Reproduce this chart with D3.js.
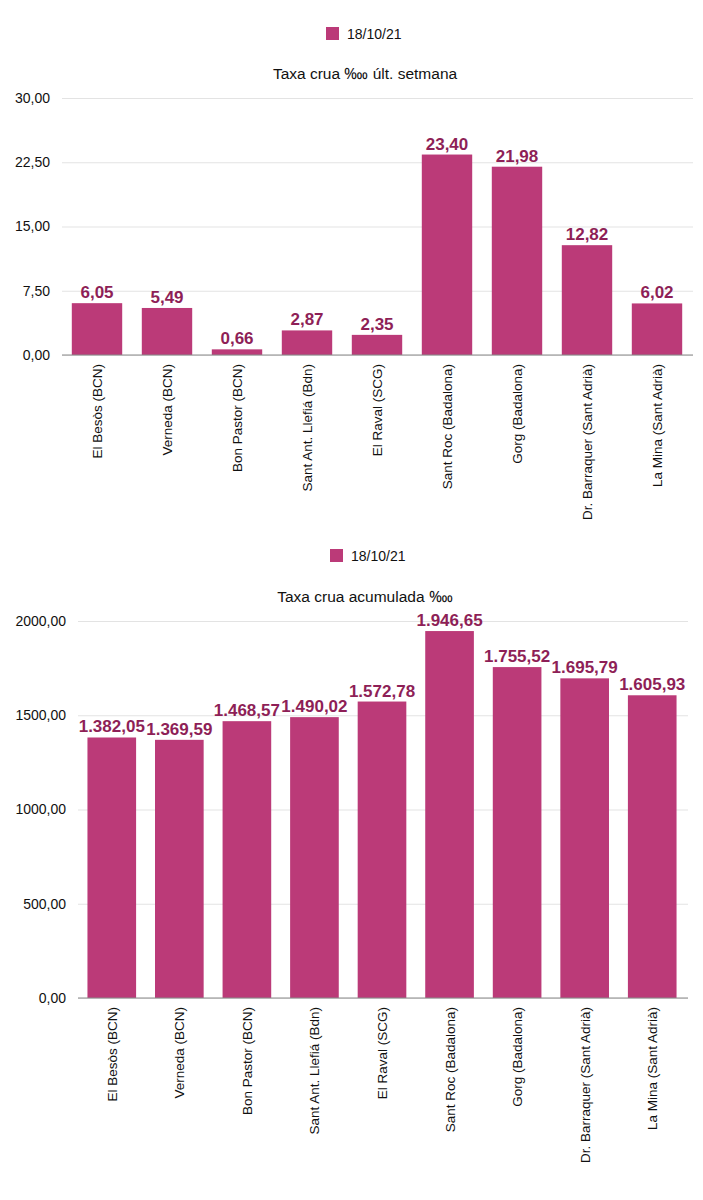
<!DOCTYPE html>
<html>
<head>
<meta charset="utf-8">
<script src="https://cdn.jsdelivr.net/npm/d3@7"></script>
<style>
  body { margin: 0; background: #fff; font-family: "Liberation Sans", Arial, sans-serif; }
</style>
</head>
<body>
<svg id="chart" width="703" height="1200"></svg>
<script>
// chart data
var categories = ["El Besòs (BCN)", "Verneda (BCN)", "Bon Pastor (BCN)", "Sant Ant. Llefiá (Bdn)",
  "El Raval (SCG)", "Sant Roc (Badalona)", "Gorg (Badalona)", "Dr. Barraquer (Sant Adrià)", "La Mina (Sant Adrià)"];
var seriesName = "18/10/21";
var weekly = [6.05, 5.49, 0.66, 2.87, 2.35, 23.40, 21.98, 12.82, 6.02];
var cumulative = [1382.05, 1369.59, 1468.57, 1490.02, 1572.78, 1946.65, 1755.52, 1695.79, 1605.93];
var weeklyTicks = [0, 7.5, 15, 22.5, 30];
var cumulativeTicks = [0, 500, 1000, 1500, 2000];

var barColor = "#bb3a78";
var labelColor = "#8e1f57";

var svg = d3.select("#chart");

// es-style number format: 1.382,05
var fmt = d3.formatLocale({decimal: ",", thousands: ".", grouping: [3], currency: ["", "€"]});
var fmtValue = fmt.format(",.2f");
var fmtTick = fmt.format(".2f");

function drawChart(opts) {
  var g = svg.append("g");

  // legend
  g.append("rect")
    .attr("x", opts.legendX).attr("y", opts.legendY - 7)
    .attr("width", 13).attr("height", 13)
    .attr("fill", barColor);
  g.append("text")
    .attr("x", opts.legendX + 21).attr("y", opts.legendY + 5)
    .attr("font-size", 14).attr("fill", "#111")
    .text(seriesName);

  // title
  g.append("text")
    .attr("x", 365).attr("y", opts.titleY)
    .attr("text-anchor", "middle")
    .attr("font-size", 15.5).attr("fill", "#111")
    .text(opts.title);

  var x = d3.scaleBand()
    .domain(categories)
    .range([opts.left, opts.right])
    .paddingInner(0.28).paddingOuter(0.14);

  var y = d3.scaleLinear()
    .domain([0, d3.max(opts.ticks)])
    .range([opts.bottom, opts.top]);

  // grid + y labels
  var yAxis = g.append("g")
    .attr("transform", "translate(" + opts.gridLeft + ",0)")
    .call(d3.axisLeft(y).tickValues(opts.ticks).tickFormat(fmtTick)
      .tickSize(-(opts.gridRight - opts.gridLeft)).tickPadding(opts.tickPad));
  yAxis.select(".domain").remove();
  yAxis.selectAll(".tick line").attr("stroke", "#e3e3e3");
  yAxis.selectAll(".tick text").attr("font-size", 14).attr("fill", "#111")
    .attr("font-family", "Liberation Sans, Arial, sans-serif");

  // bars
  g.selectAll(".bar")
    .data(opts.values)
    .enter().append("rect")
    .attr("class", "bar")
    .attr("x", function(d, i) { return x(categories[i]); })
    .attr("y", function(d) { return y(d); })
    .attr("width", x.bandwidth())
    .attr("height", function(d) { return opts.bottom - y(d); })
    .attr("fill", barColor);

  // value labels
  g.selectAll(".val")
    .data(opts.values)
    .enter().append("text")
    .attr("x", function(d, i) { return x(categories[i]) + x.bandwidth() / 2; })
    .attr("y", function(d) { return y(d) - 5; })
    .attr("text-anchor", "middle")
    .attr("font-size", opts.valueSize).attr("font-weight", "bold")
    .attr("fill", labelColor)
    .text(function(d) { return fmtValue(d); });

  // baseline
  g.append("line")
    .attr("x1", opts.gridLeft).attr("x2", opts.gridRight)
    .attr("y1", opts.bottom).attr("y2", opts.bottom)
    .attr("stroke", "#8a8a8a").attr("stroke-width", 1.2);

  // category labels, rotated
  g.selectAll(".cat")
    .data(categories)
    .enter().append("text")
    .attr("transform", function(d) {
      return "translate(" + (x(d) + x.bandwidth() / 2 + 5) + "," + (opts.bottom + 9) + ") rotate(-90)";
    })
    .attr("text-anchor", "end")
    .attr("font-size", 13.5).attr("fill", "#111")
    .text(function(d) { return d; });
}

drawChart({
  values: weekly, ticks: weeklyTicks,
  title: "Taxa crua \u2031 últ. setmana",
  legendX: 326, legendY: 34, titleY: 79,
  left: 62, right: 692, gridLeft: 62, gridRight: 693,
  top: 98, bottom: 355, tickPad: 12, valueSize: 17
});

drawChart({
  values: cumulative, ticks: cumulativeTicks,
  title: "Taxa crua acumulada \u2031",
  legendX: 330, legendY: 556, titleY: 602,
  left: 78, right: 686, gridLeft: 78, gridRight: 688,
  top: 621, bottom: 998, tickPad: 12, valueSize: 17
});
</script>
</body>
</html>
